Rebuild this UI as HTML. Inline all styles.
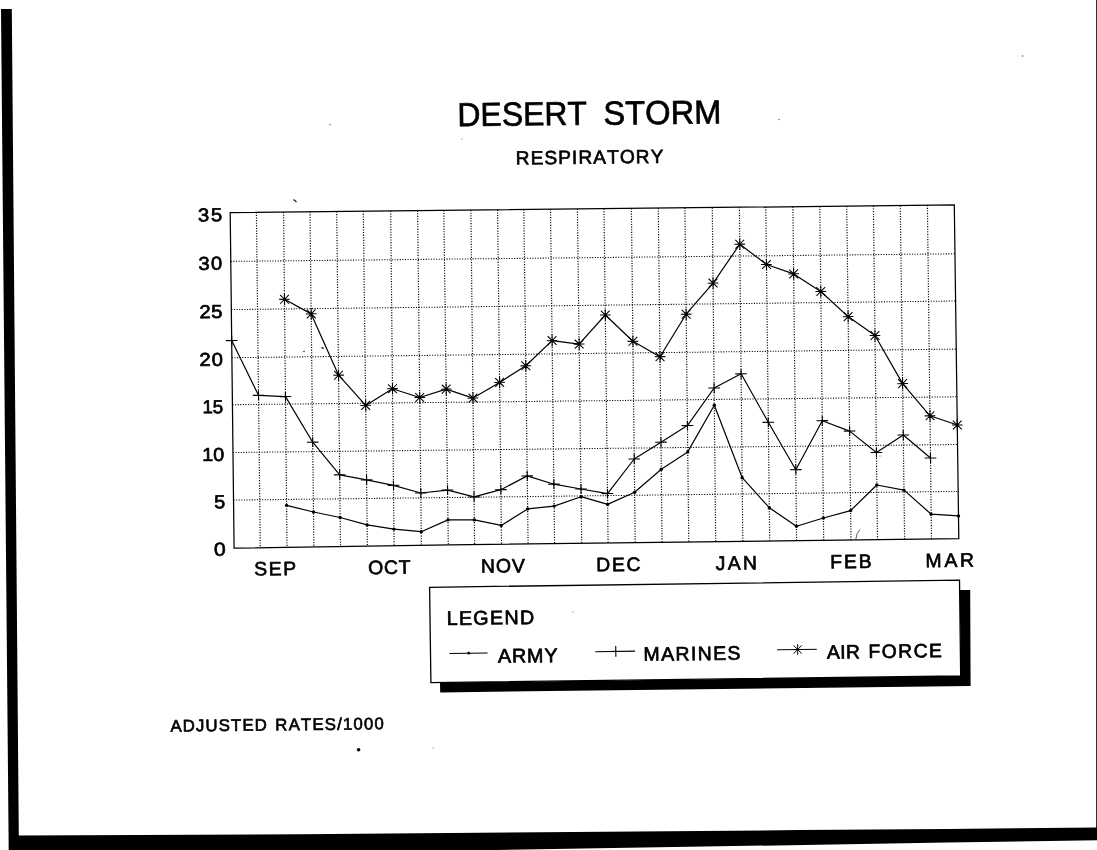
<!DOCTYPE html>
<html><head><meta charset="utf-8"><title>Desert Storm Respiratory</title>
<style>html,body{margin:0;padding:0;background:#fff}body{width:1097px;height:850px;overflow:hidden}svg{display:block;will-change:transform}</style>
</head><body>
<svg width="1097" height="850" viewBox="0 0 1097 850" font-family="'Liberation Sans', sans-serif" fill="#000" style="font-kerning:none;font-variant-ligatures:none">
<rect width="1097" height="850" fill="#fff"/>
<polygon points="1,9 11.8,9 18.8,836 18.8,850 8.7,850" fill="#000"/>
<polygon points="9,835.6 20,835.4 300,834.2 800,830.1 947,828.9 1097,827.5 1097,840.2 947,842.6 496,850 9,850" fill="#000"/>
<line x1="1096.7" y1="0" x2="1096.7" y2="830" stroke="#000" stroke-width="1"/>
<path d="M256.40 212.33L260.30 547.70M283.60 212.04L287.00 547.29M310.00 211.76L313.90 546.88M336.70 211.48L340.50 546.47M363.30 211.20L367.40 546.06M390.70 210.92L394.10 545.65M417.60 210.63L421.40 545.24M443.80 210.36L448.30 544.83M470.90 210.07L474.60 544.52M497.60 209.79L501.50 544.22M523.80 209.52L528.10 543.92M550.50 209.24L554.60 543.62M577.40 208.96L581.70 543.31M604.00 208.68L608.10 543.01M631.40 208.39L635.20 542.71M658.30 208.11L662.10 542.40M684.90 207.83L688.80 542.09M712.30 207.54L715.70 541.75M739.40 207.26L742.80 541.42M765.80 206.98L769.70 541.08M792.90 206.69L796.60 540.74M819.80 206.41L823.70 540.40M846.70 206.13L851.00 540.06M873.40 205.85L877.50 539.72M900.30 205.57L904.60 539.38M927.40 205.28L931.50 539.04" stroke="#000" stroke-width="1.2" stroke-dasharray="1.1 1.5" fill="none"/>
<path d="M230.76 261.40L954.94 253.80M231.31 309.60L955.59 301.00M231.87 357.70L956.23 349.10M232.43 404.70L956.87 396.80M232.99 452.50L957.51 444.50M233.54 500.10L958.16 491.40" stroke="#000" stroke-width="1.05" stroke-dasharray="1.1 1.5" fill="none"/>
<polygon points="230.2,212.6 954.3,205.0 958.8,538.7 800,540.7 680,542.2 450,544.8 234.1,548.1" fill="none" stroke="#000" stroke-width="1.25"/>
<polyline points="284.5,299.3 311.2,313.9 338.6,375.2 365.7,405.4 392.5,388.7 419.7,397.5 446.2,389.1 473.0,398.1 499.6,382.4 525.8,365.8 552.1,340.6 579.1,344.1 605.3,315.0 632.9,341.3 660.0,356.7 686.1,314.2 713.1,283.1 739.8,244.2 766.5,264.5 793.6,273.9 820.8,291.5 848.1,316.6 875.0,335.5 902.6,383.6 930.0,415.8 957.3,425.0" fill="none" stroke="#000" stroke-width="1.2" stroke-linejoin="round"/>
<polyline points="231.7,340.6 258.5,395.3 285.5,396.6 312.7,442.2 339.7,474.8 366.6,479.9 393.5,485.3 420.8,493.0 447.6,490.1 474.1,496.9 500.9,489.7 527.2,475.9 553.9,484.2 581.0,489.0 607.5,493.6 634.2,459.0 661.0,442.2 687.4,425.6 714.1,388.0 741.1,373.8 768.3,422.3 795.8,469.7 822.3,420.7 849.6,431.1 876.4,452.5 903.3,435.0 930.5,458.0" fill="none" stroke="#000" stroke-width="1.2" stroke-linejoin="round"/>
<polyline points="286.6,505.4 313.5,512.0 340.2,517.5 367.1,524.9 393.9,529.1 421.2,531.7 448.0,519.9 474.3,519.9 501.3,525.4 527.6,508.9 554.1,506.1 581.1,496.7 607.6,504.4 634.6,492.3 661.3,469.3 687.7,451.9 714.3,405.3 742.2,477.7 769.3,507.7 796.4,526.3 823.4,518.0 850.6,510.6 876.8,485.0 904.0,490.1 931.2,514.2 958.5,515.9" fill="none" stroke="#000" stroke-width="1.2" stroke-linejoin="round"/>
<path d="M284.42 293.50L284.55 305.10M279.19 299.36L289.78 299.24M280.03 294.95L288.94 303.65M280.14 303.75L288.83 294.85M311.12 308.10L311.26 319.70M305.89 313.96L316.49 313.84M306.74 309.55L315.64 318.25M306.84 318.35L315.54 309.45M338.49 369.40L338.63 381.00M333.26 375.26L343.86 375.14M334.11 370.85L343.01 379.55M334.21 379.65L342.90 370.75M365.61 399.60L365.75 411.20M360.38 405.46L370.98 405.34M361.23 401.05L370.13 409.75M361.33 409.85L370.03 400.95M392.44 382.90L392.57 394.50M387.21 388.76L397.81 388.64M388.05 384.35L396.96 393.05M388.16 393.15L396.85 384.25M419.65 391.70L419.79 403.30M414.42 397.56L425.02 397.44M415.27 393.15L424.17 401.85M415.37 401.95L424.07 393.05M446.14 383.30L446.27 394.90M440.91 389.16L451.50 389.04M441.75 384.75L450.66 393.45M441.86 393.55L450.55 384.65M472.91 392.30L473.05 403.90M467.68 398.16L478.28 398.04M468.53 393.75L477.43 402.45M468.63 402.55L477.33 393.65M499.54 376.60L499.68 388.20M494.31 382.46L504.91 382.34M495.16 378.05L504.06 386.75M495.27 386.85L503.96 377.95M525.74 360.00L525.88 371.60M520.51 365.86L531.11 365.74M521.36 361.45L530.26 370.15M521.46 370.25L530.16 361.35M552.04 334.80L552.18 346.40M546.81 340.66L557.41 340.54M547.66 336.25L556.56 344.95M547.76 345.05L556.46 336.15M579.07 338.30L579.21 349.90M573.84 344.16L584.44 344.04M574.69 339.75L583.59 348.45M574.79 348.55L583.49 339.65M605.24 309.20L605.37 320.80M600.00 315.06L610.60 314.94M600.85 310.65L609.76 319.35M600.96 319.45L609.65 310.55M632.84 335.50L632.98 347.10M627.61 341.36L638.21 341.24M628.46 336.95L637.36 345.65M628.56 345.75L637.26 336.85M659.92 350.90L660.06 362.50M654.69 356.76L665.29 356.64M655.54 352.35L664.44 361.05M655.64 361.15L664.34 352.25M686.07 308.40L686.21 320.00M680.84 314.26L691.44 314.14M681.69 309.85L690.59 318.55M681.79 318.65L690.49 309.75M713.00 277.30L713.14 288.90M707.77 283.16L718.37 283.04M708.62 278.75L717.52 287.45M708.72 287.55L717.42 278.65M739.71 238.40L739.84 250.00M734.48 244.26L745.08 244.14M735.32 239.85L744.23 248.55M735.43 248.65L744.12 239.75M766.40 258.70L766.54 270.30M761.17 264.56L771.77 264.44M762.02 260.15L770.92 268.85M762.12 268.95L770.82 260.05M793.58 268.10L793.71 279.70M788.34 273.96L798.94 273.84M789.19 269.55L798.10 278.25M789.30 278.35L797.99 269.45M820.72 285.70L820.86 297.30M815.49 291.56L826.09 291.44M816.34 287.15L825.25 295.85M816.45 295.95L825.14 287.05M848.05 310.80L848.19 322.40M842.82 316.66L853.42 316.54M843.67 312.25L852.57 320.95M843.78 321.05L852.47 312.15M874.92 329.70L875.06 341.30M869.69 335.56L880.29 335.44M870.54 331.15L879.44 339.85M870.64 339.95L879.34 331.05M902.52 377.80L902.66 389.40M897.29 383.66L907.89 383.54M898.14 379.25L907.05 387.95M898.25 388.05L906.94 379.15M929.92 410.00L930.05 421.60M924.69 415.86L935.29 415.74M925.53 411.45L934.44 420.15M925.64 420.25L934.33 411.35M957.20 419.20L957.34 430.80M951.97 425.06L962.57 424.94M952.81 420.65L961.72 429.35M952.92 429.45L961.61 420.55" stroke="#000" stroke-width="1.05" fill="none"/>
<path d="M225.89 340.66L237.49 340.54M231.62 335.70L231.76 345.50M252.73 395.36L264.33 395.24M258.46 390.40L258.60 400.20M279.67 396.66L291.27 396.54M285.40 391.70L285.54 401.50M306.88 442.26L318.48 442.14M312.61 437.30L312.75 447.10M333.89 474.86L345.49 474.74M339.62 469.90L339.76 479.70M360.79 479.96L372.39 479.84M366.52 475.00L366.66 484.80M387.69 485.36L399.29 485.24M393.42 480.40L393.56 490.20M415.01 493.06L426.61 492.94M420.74 488.10L420.88 497.90M441.76 490.16L453.36 490.04M447.49 485.20L447.63 495.00M468.27 496.96L479.87 496.84M474.00 492.00L474.14 501.80M495.06 489.76L506.66 489.64M500.79 484.80L500.93 494.60M521.43 475.96L533.03 475.84M527.16 471.00L527.30 480.80M548.07 484.26L559.67 484.14M553.80 479.30L553.94 489.10M575.20 489.06L586.80 488.94M580.93 484.10L581.07 493.90M601.69 493.66L613.29 493.54M607.42 488.70L607.56 498.50M628.45 459.06L640.05 458.94M634.18 454.10L634.32 463.90M655.16 442.26L666.76 442.14M660.89 437.30L661.03 447.10M681.64 425.66L693.24 425.54M687.37 420.70L687.51 430.50M708.34 388.06L719.94 387.94M714.07 383.10L714.21 392.90M735.29 373.86L746.89 373.74M741.02 368.90L741.16 378.70M762.51 422.36L774.11 422.24M768.24 417.40L768.38 427.20M790.01 469.76L801.61 469.64M795.74 464.80L795.88 474.60M816.50 420.76L828.10 420.64M822.23 415.80L822.37 425.60M843.80 431.16L855.40 431.04M849.53 426.20L849.67 436.00M870.63 452.56L882.23 452.44M876.36 447.60L876.50 457.40M897.46 435.06L909.06 434.94M903.19 430.10L903.33 439.90M924.70 458.06L936.30 457.94M930.43 453.10L930.57 462.90" stroke="#000" stroke-width="1.1" fill="none"/>
<circle cx="286.57515270317884" cy="505.4" r="1.7"/>
<circle cx="313.4940739808256" cy="512.0" r="1.7"/>
<circle cx="340.1713348544262" cy="517.5" r="1.7"/>
<circle cx="367.14088725586805" cy="524.9" r="1.7"/>
<circle cx="393.9318539524095" cy="529.1" r="1.7"/>
<circle cx="421.24626259964776" cy="531.7" r="1.7"/>
<circle cx="447.9646406596333" cy="519.9" r="1.7"/>
<circle cx="474.32760784820107" cy="519.9" r="1.7"/>
<circle cx="501.2805497392212" cy="525.4" r="1.7"/>
<circle cx="527.6497181547605" cy="508.9" r="1.7"/>
<circle cx="554.1399775434785" cy="506.1" r="1.7"/>
<circle cx="581.1005532382823" cy="496.7" r="1.7"/>
<circle cx="607.6264872538368" cy="504.4" r="1.7"/>
<circle cx="634.6270579881405" cy="492.3" r="1.7"/>
<circle cx="661.2690320596091" cy="469.3" r="1.7"/>
<circle cx="687.7477100522328" cy="451.9" r="1.7"/>
<circle cx="714.3118383125745" cy="405.3" r="1.7"/>
<circle cx="742.1517136904607" cy="477.7" r="1.7"/>
<circle cx="769.3103651288449" cy="507.7" r="1.7"/>
<circle cx="796.4400314528416" cy="526.3" r="1.7"/>
<circle cx="823.4384174998239" cy="518.0" r="1.7"/>
<circle cx="850.6206729957665" cy="510.6" r="1.7"/>
<circle cx="876.8279873256829" cy="485.0" r="1.7"/>
<circle cx="903.9651731446446" cy="490.1" r="1.7"/>
<circle cx="931.1948129123103" cy="514.2" r="1.7"/>
<circle cx="958.4925382079712" cy="515.9" r="1.7"/>
<text transform="translate(457.50 126.27) rotate(-0.68) scale(0.9579 1)" font-size="33.36" stroke="#000" stroke-width="0.65" stroke-linejoin="round" >DESERT</text>
<text transform="translate(603.44 124.77) rotate(-0.68) scale(0.9807 1)" font-size="33.36" stroke="#000" stroke-width="0.65" stroke-linejoin="round" >STORM</text>
<text transform="translate(515.76 164.58) rotate(-0.68) scale(1.0000 1)" font-size="19.11" letter-spacing="1.073" stroke="#000" stroke-width="0.65" stroke-linejoin="round" >RESPIRATORY</text>
<text transform="translate(197.88 221.45) rotate(-0.68) scale(1.0800 1)" font-size="18.75" letter-spacing="1.757" stroke="#000" stroke-width="0.7" stroke-linejoin="round" >35</text>
<text transform="translate(198.38 269.95) rotate(-0.68) scale(1.0800 1)" font-size="18.75" letter-spacing="1.239" stroke="#000" stroke-width="0.7" stroke-linejoin="round" >30</text>
<text transform="translate(199.43 318.25) rotate(-0.68) scale(1.0800 1)" font-size="18.75" letter-spacing="0.504" stroke="#000" stroke-width="0.7" stroke-linejoin="round" >25</text>
<text transform="translate(199.43 366.05) rotate(-0.68) scale(1.0800 1)" font-size="18.75" letter-spacing="0.912" stroke="#000" stroke-width="0.7" stroke-linejoin="round" >20</text>
<text transform="translate(202.42 413.25) rotate(-0.68) scale(1.0032 1)" font-size="18.75" stroke="#000" stroke-width="0.7" stroke-linejoin="round" >15</text>
<text transform="translate(202.34 461.05) rotate(-0.68) scale(1.0591 1)" font-size="18.75" stroke="#000" stroke-width="0.7" stroke-linejoin="round" >10</text>
<text transform="translate(214.16 508.25) rotate(-0.68) scale(1.0574 1)" font-size="18.75" stroke="#000" stroke-width="0.7" stroke-linejoin="round" >5</text>
<text transform="translate(214.12 555.65) rotate(-0.68) scale(1.1269 1)" font-size="18.75" stroke="#000" stroke-width="0.7" stroke-linejoin="round" >0</text>
<text transform="translate(254.24 575.58) rotate(-0.68) scale(1.0000 1)" font-size="19.40" letter-spacing="1.514" stroke="#000" stroke-width="0.65" stroke-linejoin="round" >SEP</text>
<text transform="translate(368.21 574.17) rotate(-0.68) scale(1.0000 1)" font-size="19.40" letter-spacing="0.678" stroke="#000" stroke-width="0.65" stroke-linejoin="round" >OCT</text>
<text transform="translate(481.03 572.77) rotate(-0.68) scale(1.0000 1)" font-size="19.40" letter-spacing="0.989" stroke="#000" stroke-width="0.65" stroke-linejoin="round" >NOV</text>
<text transform="translate(596.23 571.35) rotate(-0.68) scale(1.0000 1)" font-size="19.40" letter-spacing="1.706" stroke="#000" stroke-width="0.65" stroke-linejoin="round" >DEC</text>
<text transform="translate(715.72 569.89) rotate(-0.68) scale(1.0000 1)" font-size="19.40" letter-spacing="2.289" stroke="#000" stroke-width="0.65" stroke-linejoin="round" >JAN</text>
<text transform="translate(830.13 568.46) rotate(-0.68) scale(1.0000 1)" font-size="19.40" letter-spacing="1.964" stroke="#000" stroke-width="0.65" stroke-linejoin="round" >FEB</text>
<text transform="translate(925.53 567.28) rotate(-0.68) scale(1.0000 1)" font-size="19.40" letter-spacing="2.711" stroke="#000" stroke-width="0.65" stroke-linejoin="round" >MAR</text>
<polygon points="440,682.5 960.7,676.0 959.7,590.1 970.2,590.0 970.6,686.0 440.2,692.4" fill="#000"/>
<polygon points="429.6,587.3 959.5,580.2 960.7,676.0 430.9,682.6" fill="#fff" stroke="#000" stroke-width="1.3"/>
<text transform="translate(446.63 625.05) rotate(-0.68) scale(1.0000 1)" font-size="19.77" letter-spacing="1.276" stroke="#000" stroke-width="0.7" stroke-linejoin="round" >LEGEND</text>
<text transform="translate(497.91 662.75) rotate(-0.68) scale(1.0000 1)" font-size="19.77" letter-spacing="0.854" stroke="#000" stroke-width="0.7" stroke-linejoin="round" >ARMY</text>
<text transform="translate(643.55 660.85) rotate(-0.68) scale(1.0000 1)" font-size="19.48" letter-spacing="1.375" stroke="#000" stroke-width="0.7" stroke-linejoin="round" >MARINES</text>
<text transform="translate(826.91 658.85) rotate(-0.68) scale(1.0000 1)" font-size="19.33" letter-spacing="0.355" stroke="#000" stroke-width="0.7" stroke-linejoin="round" >AIR</text>
<text transform="translate(868.46 658.05) rotate(-0.68) scale(1.0000 1)" font-size="19.33" letter-spacing="1.464" stroke="#000" stroke-width="0.7" stroke-linejoin="round" >FORCE</text>
<path d="M449.5 653.5L487.6 653.0" stroke="#000" stroke-width="1.2"/><circle cx="468.7" cy="653.2" r="1.4"/>
<path d="M595.3 651.7L635 651.1M615.80 651.46L615.80 651.34M615.73 646.00L615.87 656.80" stroke="#000" stroke-width="1.1" fill="none"/>
<path d="M777 649.8L816.8 649.3M797.64 644.20L797.76 654.80M792.86 649.56L802.54 649.44M793.63 645.53L801.77 653.47M793.73 653.57L801.67 645.43" stroke="#000" stroke-width="1.0" fill="none"/>
<text transform="translate(170.39 731.67) rotate(-0.68) scale(1.0000 1)" font-size="16.79" letter-spacing="1.125" stroke="#000" stroke-width="0.65" stroke-linejoin="round" >ADJUSTED</text>
<text transform="translate(275.35 730.47) rotate(-0.68) scale(1.0000 1)" font-size="16.79" letter-spacing="1.167" stroke="#000" stroke-width="0.65" stroke-linejoin="round" >RATES/1000</text>
<circle cx="358.6" cy="749.7" r="1.8"/>
<path d="M302.8 351.6L304.6 350.4L304.6 352.2Z M320.5 347.6L323.5 347.2L323.8 349.2L322 348.6Z" fill="#111"/>
<path d="M855.8 539.2Q856.5 532.5 860 529.6" stroke="#333" stroke-width="0.8" fill="none"/>
<path d="M293.5 199.5L296.5 202" stroke="#222" stroke-width="1.3"/>
<g fill="#555"><circle cx="330" cy="124.5" r="0.7"/><circle cx="779" cy="119.5" r="0.7"/><circle cx="1022.5" cy="56" r="0.8"/><circle cx="462" cy="139" r="0.6"/><circle cx="573" cy="612" r="0.6"/><circle cx="433" cy="748" r="0.5"/><circle cx="880" cy="456" r="0.6"/></g>
</svg>
</body></html>
